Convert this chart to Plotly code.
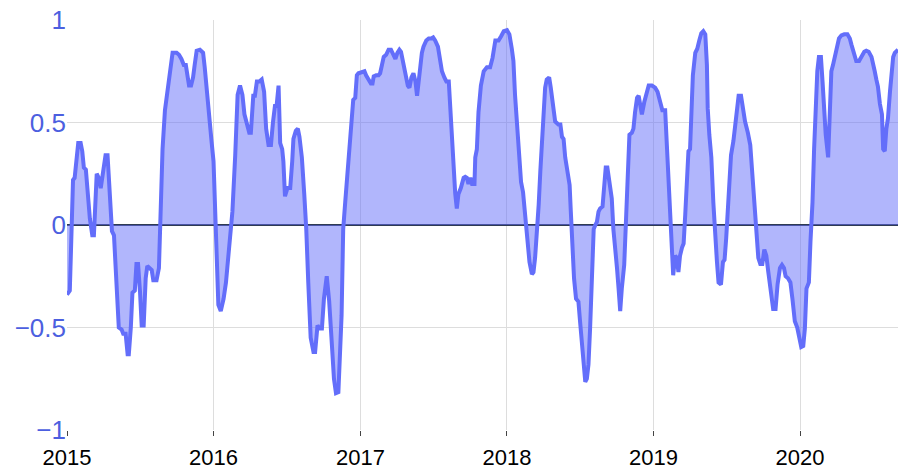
import plotly.graph_objects as go

dates = [
    "2015-01-01", "2015-01-08", "2015-01-16", "2015-01-20", "2015-01-29", "2015-02-04", "2015-02-08", "2015-02-12",
    "2015-02-17", "2015-02-27", "2015-03-05", "2015-03-09", "2015-03-16", "2015-03-21", "2015-03-26", "2015-04-01",
    "2015-04-07", "2015-04-12", "2015-04-18", "2015-04-23", "2015-04-28", "2015-05-04", "2015-05-10", "2015-05-17",
    "2015-05-21", "2015-05-27", "2015-06-01", "2015-06-04", "2015-06-09", "2015-06-13", "2015-06-19", "2015-06-23",
    "2015-06-27", "2015-07-02", "2015-07-06", "2015-07-11", "2015-07-16", "2015-07-20", "2015-07-25", "2015-07-31",
    "2015-08-04", "2015-08-12", "2015-08-18", "2015-08-22", "2015-08-27", "2015-09-02", "2015-09-07", "2015-09-11",
    "2015-09-15", "2015-09-21", "2015-10-01", "2015-10-07", "2015-10-13", "2015-10-19", "2015-10-24", "2015-10-29",
    "2015-11-01", "2015-11-06", "2015-11-11", "2015-11-15", "2015-11-20", "2015-11-28", "2015-12-06", "2015-12-10",
    "2015-12-19", "2015-12-27",
    "2016-01-01", "2016-01-05", "2016-01-09", "2016-01-13", "2016-01-19", "2016-01-26", "2016-02-01", "2016-02-09",
    "2016-02-17", "2016-02-24", "2016-03-01", "2016-03-07", "2016-03-13", "2016-03-18", "2016-03-24", "2016-03-30",
    "2016-04-03", "2016-04-09", "2016-04-13", "2016-04-18", "2016-04-24", "2016-04-30", "2016-05-06", "2016-05-11",
    "2016-05-17", "2016-05-23", "2016-05-28", "2016-06-02", "2016-06-06", "2016-06-11", "2016-06-15", "2016-06-20",
    "2016-06-23", "2016-06-27", "2016-07-03", "2016-07-10", "2016-07-15", "2016-07-18", "2016-07-24", "2016-07-29",
    "2016-08-02", "2016-08-08", "2016-08-14", "2016-08-19", "2016-08-24", "2016-08-30", "2016-09-06", "2016-09-10",
    "2016-09-16", "2016-09-21", "2016-09-27", "2016-10-02", "2016-10-09", "2016-10-15", "2016-10-22", "2016-10-27",
    "2016-11-01", "2016-11-07", "2016-11-15", "2016-11-19", "2016-11-24", "2016-12-02", "2016-12-10", "2016-12-14",
    "2016-12-19", "2016-12-23", "2016-12-27",
    "2017-01-05", "2017-01-11", "2017-01-15", "2017-01-21", "2017-01-27", "2017-01-31", "2017-02-03", "2017-02-09",
    "2017-02-15", "2017-02-19", "2017-02-24", "2017-02-28", "2017-03-06", "2017-03-12", "2017-03-18", "2017-03-23",
    "2017-03-29", "2017-04-03", "2017-04-08", "2017-04-12", "2017-04-17", "2017-04-23", "2017-04-29", "2017-05-03",
    "2017-05-08", "2017-05-13", "2017-05-18", "2017-05-22", "2017-05-26", "2017-05-30", "2017-06-03", "2017-06-07",
    "2017-06-14", "2017-06-20", "2017-06-26", "2017-07-01", "2017-07-06", "2017-07-13", "2017-07-19", "2017-07-23",
    "2017-07-29", "2017-08-03", "2017-08-09", "2017-08-13", "2017-08-17", "2017-08-21", "2017-08-25", "2017-08-29",
    "2017-09-02", "2017-09-08", "2017-09-15", "2017-09-19", "2017-09-23", "2017-09-27", "2017-10-02", "2017-10-06",
    "2017-10-12", "2017-10-14", "2017-10-18", "2017-10-22", "2017-10-28", "2017-11-04", "2017-11-12", "2017-11-20",
    "2017-11-26", "2017-12-03", "2017-12-11", "2017-12-17", "2017-12-24",
    "2018-01-01", "2018-01-07", "2018-01-13", "2018-01-17", "2018-01-21", "2018-01-26", "2018-01-30", "2018-02-05",
    "2018-02-10", "2018-02-15", "2018-02-21", "2018-02-26", "2018-03-04", "2018-03-08", "2018-03-12", "2018-03-17",
    "2018-03-21", "2018-03-25", "2018-03-29", "2018-04-02", "2018-04-06", "2018-04-10", "2018-04-16", "2018-04-20",
    "2018-04-25", "2018-05-01", "2018-05-09", "2018-05-14", "2018-05-18", "2018-05-22", "2018-05-26", "2018-06-01",
    "2018-06-06", "2018-06-09", "2018-06-13", "2018-06-17", "2018-06-22", "2018-06-28", "2018-07-02", "2018-07-07",
    "2018-07-11", "2018-07-15", "2018-07-19", "2018-07-23", "2018-07-27", "2018-08-01", "2018-08-05", "2018-08-09",
    "2018-08-13", "2018-08-17", "2018-08-21", "2018-08-27", "2018-08-31", "2018-09-04", "2018-09-08", "2018-09-13",
    "2018-09-19", "2018-09-23", "2018-09-28", "2018-10-02", "2018-10-06", "2018-10-10", "2018-10-14", "2018-10-20",
    "2018-10-25", "2018-10-30", "2018-11-02", "2018-11-08", "2018-11-12", "2018-11-16", "2018-11-21", "2018-11-25",
    "2018-11-29", "2018-12-03", "2018-12-09", "2018-12-14", "2018-12-20", "2018-12-28",
    "2019-01-05", "2019-01-11", "2019-01-17", "2019-01-23", "2019-01-30", "2019-02-03", "2019-02-07", "2019-02-11",
    "2019-02-15", "2019-02-19", "2019-02-24", "2019-02-28", "2019-03-04", "2019-03-08", "2019-03-13", "2019-03-17",
    "2019-03-21", "2019-03-25", "2019-03-29", "2019-04-02", "2019-04-05", "2019-04-09", "2019-04-15", "2019-04-20",
    "2019-04-25", "2019-04-30", "2019-05-05", "2019-05-10", "2019-05-14", "2019-05-16", "2019-05-20", "2019-05-25",
    "2019-05-30", "2019-06-04", "2019-06-08", "2019-06-12", "2019-06-18", "2019-06-23", "2019-06-27", "2019-07-01",
    "2019-07-05", "2019-07-09", "2019-07-13", "2019-07-19", "2019-07-23", "2019-07-28", "2019-08-01", "2019-08-07",
    "2019-08-11", "2019-08-17", "2019-08-24", "2019-08-30", "2019-09-03", "2019-09-07", "2019-09-11", "2019-09-15",
    "2019-09-19", "2019-09-24", "2019-09-29", "2019-10-04", "2019-10-09", "2019-10-14", "2019-10-20", "2019-10-26",
    "2019-11-01", "2019-11-06", "2019-11-12", "2019-11-17", "2019-11-22", "2019-11-26", "2019-12-02", "2019-12-08",
    "2019-12-13", "2019-12-19", "2019-12-25", "2019-12-30",
    "2020-01-04", "2020-01-09", "2020-01-13", "2020-01-17", "2020-01-23", "2020-01-27", "2020-01-29", "2020-02-01",
    "2020-02-05", "2020-02-09", "2020-02-13", "2020-02-17", "2020-02-22", "2020-02-26", "2020-03-01", "2020-03-05",
    "2020-03-11", "2020-03-15", "2020-03-19", "2020-03-23", "2020-03-28", "2020-04-01", "2020-04-07", "2020-04-13",
    "2020-04-20", "2020-04-28", "2020-05-04", "2020-05-08", "2020-05-15", "2020-05-20", "2020-05-27", "2020-06-02",
    "2020-06-09", "2020-06-14", "2020-06-20", "2020-06-27", "2020-07-01", "2020-07-05", "2020-07-09", "2020-07-13",
    "2020-07-18", "2020-07-23", "2020-07-26", "2020-07-30", "2020-08-03", "2020-08-07", "2020-08-12", "2020-08-16",
    "2020-08-20", "2020-08-24", "2020-08-30", "2020-09-01",
]

values = [
    -0.34, -0.32, 0.22, 0.23, 0.40, 0.40, 0.36, 0.28,
    0.27, 0.03, -0.05, -0.05, 0.25, 0.23, 0.18, 0.26,
    0.34, 0.34, 0.11, -0.03, -0.05, -0.31, -0.50, -0.51,
    -0.53, -0.53, -0.63, -0.63, -0.50, -0.33, -0.32, -0.19,
    -0.19, -0.33, -0.49, -0.49, -0.26, -0.20, -0.21, -0.22,
    -0.27, -0.27, -0.21, 0.02, 0.37, 0.56, 0.64, 0.68,
    0.74, 0.84, 0.84, 0.83, 0.81, 0.78, 0.78, 0.73,
    0.68, 0.68, 0.72, 0.78, 0.85, 0.855, 0.84, 0.77,
    0.55, 0.41,
    0.31, 0.065, -0.15, -0.39, -0.42, -0.36, -0.28, -0.10,
    0.065, 0.34, 0.635, 0.68, 0.635, 0.54, 0.49, 0.45,
    0.45, 0.63, 0.63, 0.70, 0.70, 0.71, 0.65, 0.47,
    0.39, 0.39, 0.50, 0.58, 0.58, 0.68, 0.40, 0.37,
    0.31, 0.14, 0.18, 0.18, 0.31, 0.42, 0.46, 0.47,
    0.43, 0.33, 0.15, -0.02, -0.28, -0.55, -0.62, -0.62,
    -0.49, -0.505, -0.505, -0.36, -0.25, -0.37, -0.59, -0.75,
    -0.82, -0.815, -0.44, -0.02, 0.11, 0.33, 0.55, 0.61,
    0.62, 0.73, 0.74,
    0.745, 0.75, 0.73, 0.71, 0.69, 0.69, 0.725, 0.73,
    0.73, 0.74, 0.79, 0.82, 0.83, 0.855, 0.855, 0.83,
    0.81, 0.84, 0.855, 0.845, 0.80, 0.75, 0.68, 0.67,
    0.72, 0.74, 0.70, 0.63, 0.70, 0.80, 0.84, 0.87,
    0.90, 0.91, 0.91, 0.915, 0.90, 0.87, 0.80, 0.75,
    0.72, 0.70, 0.70, 0.54, 0.41, 0.26, 0.155, 0.08,
    0.15, 0.18, 0.23, 0.235, 0.23, 0.20, 0.23, 0.20,
    0.20, 0.33, 0.37, 0.55, 0.68, 0.75, 0.77, 0.77,
    0.815, 0.90, 0.90, 0.92, 0.945,
    0.95, 0.93, 0.86, 0.80, 0.635, 0.49, 0.34, 0.21,
    0.16, 0.05, -0.08, -0.18, -0.24, -0.23, -0.16, -0.03,
    0.10, 0.26, 0.41, 0.55, 0.67, 0.71, 0.72, 0.67,
    0.59, 0.505, 0.49, 0.49, 0.43, 0.42, 0.33, 0.26,
    0.195, 0.065, -0.11, -0.26, -0.36, -0.375, -0.47, -0.59,
    -0.68, -0.765, -0.75, -0.68, -0.505, -0.28, -0.02, 0.0,
    0.015, 0.065, 0.08, 0.09, 0.21, 0.28, 0.28, 0.21,
    0.13, -0.02, -0.11, -0.21, -0.31, -0.42, -0.31, -0.195,
    0.05, 0.29, 0.44, 0.45, 0.47, 0.55, 0.62, 0.63,
    0.57, 0.54, 0.60, 0.64, 0.68, 0.68,
    0.67, 0.65, 0.61, 0.56, 0.56, 0.41, 0.26, 0.08,
    -0.11, -0.245, -0.15, -0.16, -0.23, -0.15, -0.11, -0.09,
    0.05, 0.21, 0.36, 0.37, 0.54, 0.73, 0.84, 0.86,
    0.90, 0.935, 0.945, 0.93, 0.78, 0.57, 0.44, 0.33,
    0.11, -0.08, -0.18, -0.28, -0.29, -0.18, -0.17, -0.065,
    0.08, 0.245, 0.34, 0.41, 0.48, 0.55, 0.63, 0.63,
    0.57, 0.505, 0.45, 0.39, 0.28, 0.15, 0.05, -0.10,
    -0.16, -0.19, -0.19, -0.12, -0.15, -0.23, -0.33, -0.41,
    -0.41, -0.29, -0.21, -0.195, -0.21, -0.25, -0.26, -0.28,
    -0.36, -0.47, -0.50, -0.54,
    -0.595, -0.59, -0.505, -0.31, -0.28, -0.08, 0.0, 0.11,
    0.37, 0.57, 0.75, 0.82, 0.82, 0.70, 0.55, 0.44,
    0.33, 0.57, 0.75, 0.78, 0.83, 0.87, 0.91, 0.925,
    0.93, 0.93, 0.91, 0.88, 0.84, 0.80, 0.80, 0.82,
    0.845, 0.85, 0.845, 0.82, 0.79, 0.75, 0.71, 0.675,
    0.59, 0.54, 0.37, 0.36, 0.47, 0.52, 0.65, 0.75,
    0.82, 0.84, 0.855, 0.855,
]

year_ticks = ["2015-01-01", "2016-01-01", "2017-01-01", "2018-01-01", "2019-01-01", "2020-01-01"]
year_labels = ["2015", "2016", "2017", "2018", "2019", "2020"]

LINE = "#636efa"

fig = go.Figure(
    go.Scatter(
        x=dates,
        y=values,
        mode="lines",
        fill="tozeroy",
        line=dict(color=LINE, width=4),
        fillcolor="rgba(99,110,250,0.5)",
        hoverinfo="skip",
    )
)

fig.update_layout(
    width=898,
    height=470,
    margin=dict(l=67, r=0, t=20, b=40),
    paper_bgcolor="white",
    plot_bgcolor="white",
    showlegend=False,
    font=dict(family="Arial, Liberation Sans, sans-serif"),
)

fig.update_xaxes(
    type="date",
    range=[dates[0], dates[-1]],
    tickvals=year_ticks,
    ticktext=year_labels,
    showgrid=True,
    gridcolor="#dddddd",
    gridwidth=1,
    ticks="outside",
    ticklen=5,
    tickcolor="#444444",
    tickfont=dict(size=22, color="black"),
    ticklabelstandoff=3,
    showline=False,
    zeroline=False,
)

fig.update_yaxes(
    range=[-1, 1],
    tickvals=[-1, -0.5, 0, 0.5, 1],
    showgrid=True,
    gridcolor="#dddddd",
    gridwidth=1,
    zeroline=True,
    zerolinecolor="#2f3b52",
    zerolinewidth=2,
    tickfont=dict(size=26, color="#4c5fe0"),
    showline=False,
    ticks="",
)

fig.write_html(
    "out.html",
    config={"displayModeBar": False},
    post_script="document.body.style.margin='0';document.body.style.overflow='hidden';",
)
